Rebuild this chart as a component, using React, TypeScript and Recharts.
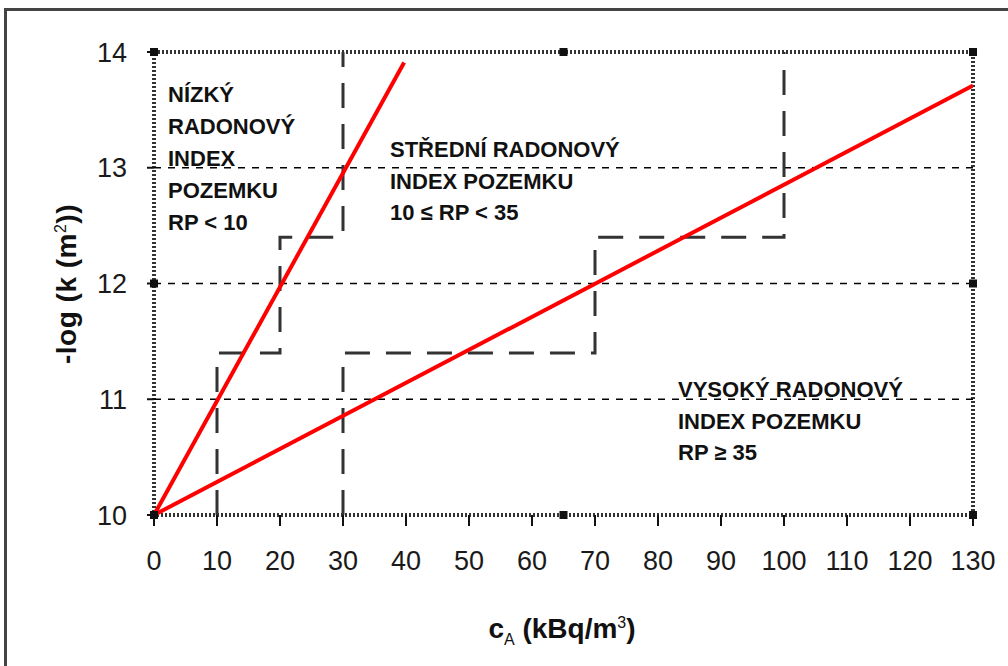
import { LineChart, Line, XAxis, YAxis, ReferenceLine, ReferenceArea, ReferenceDot } from "recharts";

// axis ticks
const xTicks = [0, 10, 20, 30, 40, 50, 60, 70, 80, 90, 100, 110, 120, 130];
const yTicks = [10, 11, 12, 13, 14];
const gridLevels = [11, 12, 13];

// red limit lines
const lowLimit = [
  { x: 0, y: 10 },
  { x: 39.7, y: 13.91 },
];
const highLimit = [
  { x: 0, y: 10 },
  { x: 130, y: 13.71 },
];

// dashed category boundaries (steps)
const lowBoundary = [
  { x: 10, y: 10 },
  { x: 10, y: 11.4 },
  { x: 20, y: 11.4 },
  { x: 20, y: 12.4 },
  { x: 30, y: 12.4 },
  { x: 30, y: 14 },
];
const highBoundary = [
  { x: 30, y: 10 },
  { x: 30, y: 11.4 },
  { x: 70, y: 11.4 },
  { x: 70, y: 12.4 },
  { x: 100, y: 12.4 },
  { x: 100, y: 14 },
];

// selection handles on the plot frame
const handles = [
  { x: 0, y: 14 },
  { x: 65, y: 14 },
  { x: 130, y: 14 },
  { x: 0, y: 12 },
  { x: 130, y: 12 },
  { x: 0, y: 10 },
  { x: 65, y: 10 },
  { x: 130, y: 10 },
];

const FONT = "'Liberation Sans', Arial, sans-serif";

const Handle = (props: any) => (
  <rect x={props.cx - 4} y={props.cy - 4} width={8} height={8} fill="#111" />
);

const noteStyle: React.CSSProperties = {
  position: "absolute",
  fontFamily: FONT,
  fontWeight: "bold",
  fontSize: 22,
  lineHeight: "32px",
  color: "#111",
  whiteSpace: "nowrap",
};

const supStyle: React.CSSProperties = { fontSize: 16, fontWeight: "normal" };

export default function App() {
  return (
    <div
      style={{
        position: "fixed",
        left: 0,
        top: 0,
        width: 1008,
        height: 666,
        overflow: "hidden",
        background: "#fff",
      }}
    >
      <div
        style={{
          position: "absolute",
          left: 4,
          top: 8,
          width: 1100,
          height: 800,
          border: "3px solid #444",
        }}
      />
      <div style={{ position: "absolute", left: 0, top: 0 }}>
        <LineChart
          width={1008}
          height={666}
          margin={{ top: 52, right: 35, bottom: 111, left: 94 }}
          style={{ fontFamily: FONT }}
        >
          <XAxis
            type="number"
            dataKey="x"
            domain={[0, 130]}
            ticks={xTicks}
            interval={0}
            allowDataOverflow
            height={40}
            axisLine={false}
            tickSize={11}
            tickMargin={25}
            tickLine={{ stroke: "#111", strokeWidth: 2 }}
            tick={{ fontSize: 27, fill: "#1a1a1a", fontFamily: FONT }}
          />
          <YAxis
            type="number"
            dataKey="y"
            domain={[10, 14]}
            ticks={yTicks}
            interval={0}
            allowDataOverflow
            width={60}
            axisLine={false}
            tickSize={7}
            tickMargin={20}
            tickLine={{ stroke: "#111", strokeWidth: 2 }}
            tick={{ fontSize: 27, fill: "#1a1a1a", fontFamily: FONT }}
          />
          {gridLevels.map((v) => (
            <ReferenceLine
              key={v}
              y={v}
              stroke="#000"
              strokeWidth={1.5}
              strokeDasharray="7 7"
            />
          ))}
          <Line
            data={lowBoundary}
            dataKey="y"
            type="linear"
            stroke="#333"
            strokeWidth={3}
            strokeDasharray="25 16"
            dot={false}
            activeDot={false}
            isAnimationActive={false}
          />
          <Line
            data={highBoundary}
            dataKey="y"
            type="linear"
            stroke="#333"
            strokeWidth={3}
            strokeDasharray="25 16"
            dot={false}
            activeDot={false}
            isAnimationActive={false}
          />
          <Line
            data={lowLimit}
            dataKey="y"
            type="linear"
            stroke="#ff0000"
            strokeWidth={4}
            dot={false}
            activeDot={false}
            isAnimationActive={false}
          />
          <Line
            data={highLimit}
            dataKey="y"
            type="linear"
            stroke="#ff0000"
            strokeWidth={4}
            dot={false}
            activeDot={false}
            isAnimationActive={false}
          />
          <ReferenceArea
            x1={0}
            x2={130}
            y1={10}
            y2={14}
            fill="none"
            stroke="#333"
            strokeWidth={4}
            strokeDasharray="2 2"
          />
          {handles.map((h, i) => (
            <ReferenceDot key={i} x={h.x} y={h.y} r={4} shape={Handle} />
          ))}
        </LineChart>
      </div>

      <div style={{ ...noteStyle, left: 168, top: 79 }}>
        NÍZKÝ
        <br />
        RADONOVÝ
        <br />
        INDEX
        <br />
        POZEMKU
        <br />
        RP &lt; 10
      </div>
      <div style={{ ...noteStyle, left: 390, top: 134, lineHeight: "31.5px" }}>
        STŘEDNÍ RADONOVÝ
        <br />
        INDEX POZEMKU
        <br />
        10 ≤ RP &lt; 35
      </div>
      <div style={{ ...noteStyle, left: 678, top: 374, lineHeight: "31.5px" }}>
        VYSOKÝ RADONOVÝ
        <br />
        INDEX POZEMKU
        <br />
        RP ≥ 35
      </div>

      <div
        style={{
          ...noteStyle,
          left: 562,
          top: 606,
          transform: "translateX(-50%)",
          fontSize: 28,
          lineHeight: "34px",
        }}
      >
        c<sub style={supStyle}>A</sub> (kBq/m<sup style={supStyle}>3</sup>)
      </div>
      <div
        style={{
          ...noteStyle,
          left: 64,
          top: 284,
          fontSize: 28,
          lineHeight: "34px",
          letterSpacing: 0.5,
          transform: "translate(-50%, -50%) rotate(-90deg)",
        }}
      >
        -log (k (m<sup style={supStyle}>2</sup>))
      </div>
    </div>
  );
}
